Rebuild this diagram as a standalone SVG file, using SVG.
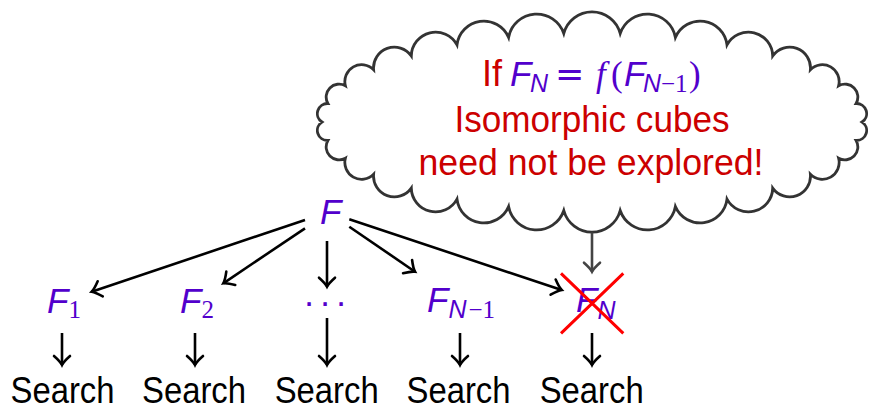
<svg xmlns="http://www.w3.org/2000/svg" width="869" height="410" viewBox="0 0 869 410">
<style>
  .t{font-family:"Liberation Sans",Arial,sans-serif}
  .red{fill:#cc0000;font-size:36px;font-family:"Liberation Sans",Arial,sans-serif}
  .m{fill:#5200cc;font-family:"Liberation Sans",Arial,sans-serif;font-style:italic;font-size:35px}
  .rm{font-family:"Liberation Serif","Times New Roman",serif;font-style:normal}
  .mf{font-family:"Liberation Serif","Times New Roman",serif;font-style:italic}
  .eq{font-family:"DejaVu Sans",sans-serif;font-style:normal}
  .sub{font-size:25px}
  .s{font-family:"Liberation Sans",Arial,sans-serif;font-size:36px;fill:#000;text-anchor:middle}
  .e{stroke:#000;stroke-width:2.6;fill:none;marker-end:url(#ah)}
  .eg{stroke:#444;stroke-width:2.6;fill:none;marker-end:url(#ahg)}
  .x{stroke:#ff0000;stroke-width:3;fill:none}
</style>
<defs>
  <marker id="ah" markerUnits="userSpaceOnUse" viewBox="-11 -10 13 20" markerWidth="13" markerHeight="20" refX="0" refY="0" orient="auto" overflow="visible">
    <path d="M-9,-8 C-5,-3.5 -2,-1 0,0 C-2,1 -5,3.5 -9,8" fill="none" stroke="#000" stroke-width="2.6" stroke-linecap="round"/>
  </marker>
  <marker id="ahg" markerUnits="userSpaceOnUse" viewBox="-11 -10 13 20" markerWidth="13" markerHeight="20" refX="0" refY="0" orient="auto" overflow="visible">
    <path d="M-9,-8 C-5,-3.5 -2,-1 0,0 C-2,1 -5,3.5 -9,8" fill="none" stroke="#444" stroke-width="2.6" stroke-linecap="round"/>
  </marker>
</defs>

<g id="cloud">
  <path fill="#fff" stroke="#333" stroke-width="2.8" stroke-linejoin="miter" d="M862,122
   A10.05,10.05 0 0 0 856.1,103.5
   A12.9,12.9 0 0 0 838.6,85.8
   A16.8,16.8 0 0 0 810.4,69.7
   A20.8,20.8 0 0 0 772.7,55.9
   A24.3,24.3 0 0 0 727,44.9
   A27,27 0 0 0 675.4,37.4
   A28.6,28.6 0 0 0 620.2,33.5
   A29.2,29.2 0 0 0 563.8,33.5
   A28.6,28.6 0 0 0 508.6,37.4
   A27,27 0 0 0 457,44.9
   A24.3,24.3 0 0 0 411.3,55.9
   A20.8,20.8 0 0 0 373.6,69.7
   A16.8,16.8 0 0 0 345.4,85.8
   A12.9,12.9 0 0 0 327.9,103.5
   A10.05,10.05 0 0 0 322,122
   A10.05,10.05 0 0 0 327.9,140.5
   A12.9,12.9 0 0 0 345.4,158.2
   A16.8,16.8 0 0 0 373.6,174.3
   A20.8,20.8 0 0 0 411.3,188.1
   A24.3,24.3 0 0 0 457,199.1
   A27,27 0 0 0 508.6,206.6
   A28.6,28.6 0 0 0 563.8,210.5
   A29.2,29.2 0 0 0 620.2,210.5
   A28.6,28.6 0 0 0 675.4,206.6
   A27,27 0 0 0 727,199.1
   A24.3,24.3 0 0 0 772.7,188.1
   A20.8,20.8 0 0 0 810.4,174.3
   A16.8,16.8 0 0 0 838.6,158.2
   A12.9,12.9 0 0 0 856.1,140.5
   A10.05,10.05 0 0 0 862,122 Z"/>
  <text y="86"><tspan class="red" x="482">If</tspan><tspan class="m" x="510">F</tspan><tspan class="m sub" x="530" y="92">N</tspan><tspan class="m eq" x="555" y="86">=</tspan><tspan class="m mf" x="596">f</tspan><tspan class="m rm" x="611">(</tspan><tspan class="m" x="624">F</tspan><tspan class="m sub" x="643" y="92">N</tspan><tspan class="m rm sub" x="661">−1</tspan><tspan class="m rm" x="689" y="86">)</tspan></text>
  <text class="red" x="592" y="132" text-anchor="middle" textLength="275" lengthAdjust="spacingAndGlyphs">Isomorphic cubes</text>
  <text class="red" x="591" y="175" text-anchor="middle" textLength="345" lengthAdjust="spacingAndGlyphs">need not be explored!</text>
</g>

<g id="node-F"><text class="m" x="320" y="224">F</text></g>
<g id="node-F1"><text class="m" x="47" y="313">F<tspan class="rm sub" dy="5">1</tspan></text></g>
<g id="node-F2"><text class="m" x="180" y="313">F<tspan class="rm sub" dy="5">2</tspan></text></g>
<g id="node-dots"><text class="m" x="309 325 341" y="314" text-anchor="middle" style="font-style:normal">···</text></g>
<g id="node-FN1"><text class="m" x="427" y="312">F<tspan class="sub" dy="6">N</tspan><tspan class="rm sub" dx="2">−1</tspan></text></g>
<g id="node-FN"><text class="m" x="576" y="312">F<tspan class="sub" dy="7">N</tspan></text>
  <path class="x" d="M561,273.3 L623.3,333.3 M623.3,273.3 L561,333.3"/></g>

<g id="search-1"><text class="s" x="62.5" y="403" textLength="104" lengthAdjust="spacingAndGlyphs">Search</text></g>
<g id="search-2"><text class="s" x="194" y="403" textLength="104" lengthAdjust="spacingAndGlyphs">Search</text></g>
<g id="search-3"><text class="s" x="326.7" y="403" textLength="104" lengthAdjust="spacingAndGlyphs">Search</text></g>
<g id="search-4"><text class="s" x="458.5" y="403" textLength="104" lengthAdjust="spacingAndGlyphs">Search</text></g>
<g id="search-5"><text class="s" x="591.7" y="403" textLength="104" lengthAdjust="spacingAndGlyphs">Search</text></g>

<g id="connectors">
  <path class="e" d="M305,220 L91.7,291.7"/>
  <path class="e" d="M305,228.3 L223.3,283.3"/>
  <path class="e" d="M327,241 L327,286.7"/>
  <path class="e" d="M349.3,226.7 L415,271.7"/>
  <path class="e" d="M349.3,219.3 L561.7,290"/>
  <path class="e" d="M62,333 L62,365"/>
  <path class="e" d="M195,333 L195,365"/>
  <path class="e" d="M327,318 L327,365"/>
  <path class="e" d="M460,333 L460,365"/>
  <path class="e" d="M592,333 L592,365"/>
  <path class="eg" d="M592,232.5 L592,271.7"/>
</g>
</svg>
